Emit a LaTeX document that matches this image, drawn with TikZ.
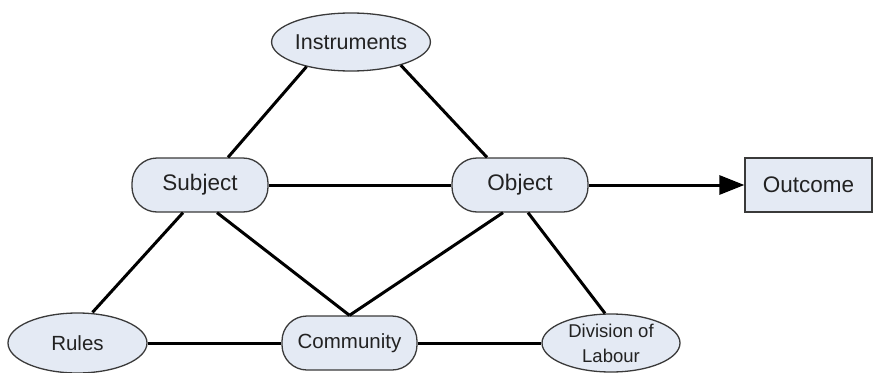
\documentclass[tikz,border=0pt]{standalone}
\usepackage{fontspec}
\setmainfont{Liberation Sans}
\usetikzlibrary{shapes.geometric,arrows.meta}
\definecolor{nodefill}{HTML}{E4EAF4}
\definecolor{nodeline}{HTML}{3A3A3A}
\definecolor{nodetext}{HTML}{222222}
\tikzset{
  base/.style={draw=nodeline, fill=nodefill, line width=1.3pt, text=nodetext,
    inner sep=0pt, font=\fontsize{22.5}{26}\selectfont},
  oval/.style={base, ellipse},
  pill/.style={base, rectangle, rounded corners=25pt},
  box/.style={base, rectangle},
  link/.style={line width=3pt, black},
  flow/.style={link, -{Triangle[length=25pt,width=19pt]}}
}
\begin{document}
\begin{tikzpicture}[x=1pt,y=-1pt]
\useasboundingbox (0,0) rectangle (885,372);

\node[oval, minimum width=147pt, minimum height=58pt, font=\fontsize{21.5}{25}\selectfont] (instr) at (351,42) {Instruments};
\node[pill, minimum width=136pt, minimum height=54pt] (subj) at (200,185) {Subject};
\node[pill, minimum width=136pt, minimum height=54pt] (obj) at (520,185) {Object};
\node[box, minimum width=127pt, minimum height=54pt] (out) at (808.5,185) {Outcome};
\node[oval, minimum width=139pt, minimum height=60pt, font=\fontsize{20.5}{24}\selectfont] (rules) at (77.5,343) {Rules};
\node[pill, minimum width=135pt, minimum height=54pt, font=\fontsize{20.5}{24}\selectfont] (comm) at (349.5,343) {Community};
\node[oval, minimum width=138pt, minimum height=58pt, align=center, font=\fontsize{18.5}{25}\selectfont] (div) at (611,343) {Division of\\Labour};

\draw[link] (instr.209) -- ([xshift=28pt]subj.north);
\draw[link] (instr.335) -- ([xshift=-33pt]obj.north);
\draw[link] (subj.east) -- (obj.west);
\draw[link] ([xshift=-17pt]subj.south) -- ([xshift=15pt]rules.north);
\draw[link] ([xshift=17pt]subj.south) -- (comm.north);
\draw[link] ([xshift=-17pt]obj.south) -- (comm.north);
\draw[link] ([xshift=8pt]obj.south) -- ([xshift=-6pt]div.north);
\draw[link] (rules.east) -- (comm.west);
\draw[link] (comm.east) -- (div.west);
\draw[flow] (obj.east) -- (out.west);
\end{tikzpicture}
\end{document}
